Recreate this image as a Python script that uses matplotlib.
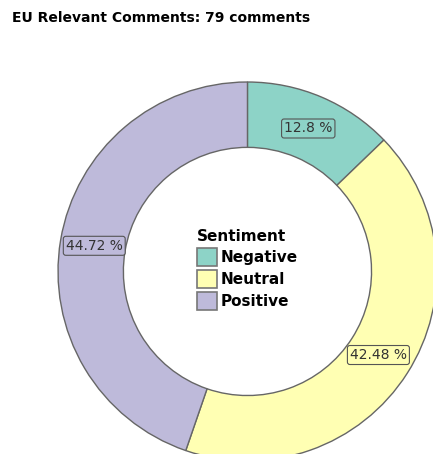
import matplotlib
matplotlib.use("Agg")
import matplotlib.pyplot as plt
from matplotlib.patches import Patch

categories = ["Negative", "Neutral", "Positive"]
shares = [12.8, 42.48, 44.72]
title = "EU Relevant Comments: 79 comments"
legend_title = "Sentiment"

colors = ["#8dd3c7", "#ffffb3", "#bebada"]

fig = plt.figure(figsize=(4.33, 4.54), dpi=100)
fig.text(0.028, 0.96, title, fontsize=10, fontweight="bold", ha="left", va="center")

ax = fig.add_axes([0.134, -0.0154, 0.875, 0.835])
wedges, texts, autotexts = ax.pie(
    shares,
    colors=colors,
    startangle=90,
    counterclock=False,
    radius=1.0,
    autopct=lambda p: f"{p:.4g} %",
    pctdistance=0.82,
    wedgeprops=dict(width=0.345, edgecolor="#666666", linewidth=1.0),
    textprops=dict(fontsize=10, color="#333333"),
)
for t, c in zip(autotexts, colors):
    t.set_bbox(dict(boxstyle="round,pad=0.18", facecolor=c, edgecolor="#555555", linewidth=0.8))

ax.set_xlim(-1, 1)
ax.set_ylim(-1, 1)
ax.set_aspect("equal")

handles = [Patch(facecolor=c, edgecolor="#777777", linewidth=1.2) for c in colors]
leg = ax.legend(handles, categories, title=legend_title, loc="center",
                bbox_to_anchor=(0.0, 0.01), bbox_transform=ax.transData,
                frameon=False, prop=dict(weight="bold", size=11),
                title_fontproperties=dict(weight="bold", size=11),
                alignment="left",
                handlelength=1.35, handleheight=1.42, handletextpad=0.25,
                labelspacing=0.26, borderpad=0.2)

fig.savefig("out.png", dpi=100)
